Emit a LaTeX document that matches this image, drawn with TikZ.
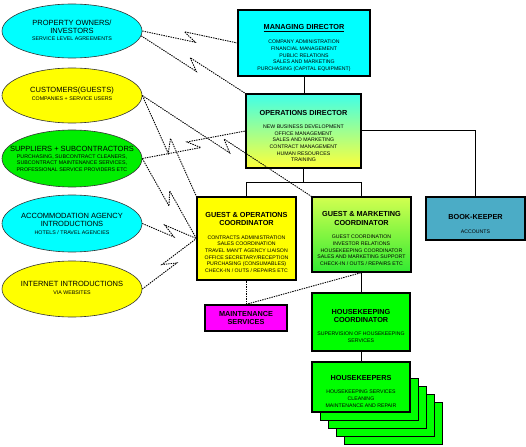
\documentclass[tikz,border=0pt]{standalone}
\usepackage{fontspec}
\setmainfont{Liberation Sans}
\usetikzlibrary{shapes.geometric,calc}
\definecolor{cyanA}{RGB}{0,255,255}
\definecolor{yelA}{RGB}{255,255,0}
\definecolor{grnA}{RGB}{0,255,0}
\definecolor{grnE}{RGB}{0,238,0}
\definecolor{magA}{RGB}{255,0,255}
\definecolor{tealA}{RGB}{75,172,198}
\definecolor{odTop}{RGB}{64,255,232}
\definecolor{odBot}{RGB}{255,255,56}
\definecolor{gmTop}{RGB}{210,255,80}
\definecolor{gmBot}{RGB}{50,235,50}
\newcommand\ttlfont{\fontsize{7.3}{8.4}\selectfont\bfseries}
\newcommand\dtlfont{\fontsize{5.2}{6.6}\selectfont}
\newcommand\elbfont{\fontsize{7.5}{8}\selectfont}
\newcommand\elsfont{\fontsize{5.3}{6.6}\selectfont}
\newcommand\boltline[2]{%
  \path ($(#1)!0.5!(#2)$) coordinate (bm);
  \path ($(bm)!6pt!(#2)$) coordinate (bf);
  \path ($(bm)!6pt!180:(#2)$) coordinate (bb);
  \path ($(bf)!4.5pt!-90:(#2)$) coordinate (q1);
  \path ($(bb)!4.5pt!90:(#2)$) coordinate (q2);
  \draw[link] (#1) -- (q1) -- (q2) -- (#2);}
\begin{document}
\begin{tikzpicture}[x=1pt,y=-1pt,
  ell/.style={ellipse,draw=black!80,line width=0.6pt,inner sep=0pt,minimum width=140pt},
  box/.style={rectangle,draw=black,line width=1.2pt,inner sep=0pt},
  backbox/.style={rectangle,draw=black,line width=0.8pt,fill=grnA,inner sep=0pt,minimum width=98pt,minimum height=42pt},
  ttl/.style={inner sep=0pt,align=center,font=\ttlfont},
  dtl/.style={inner sep=0pt,align=center,font=\dtlfont},
  elb/.style={inner sep=0pt,align=center,font=\elbfont},
  els/.style={inner sep=0pt,align=center,font=\elsfont},
  wire/.style={draw=black,line width=1pt},
  link/.style={draw=black,line width=0.9pt,dash pattern=on 1.4pt off 1pt}]
\useasboundingbox (0,0) rectangle (526,446);
\fill[white] (0,0) rectangle (526,446);
% ellipses
\node[ell,fill=cyanA,minimum height=54pt] (po) at (72,31) {};
\node[ell,fill=yelA,minimum height=55pt] (cu) at (72,95.5) {};
\node[ell,fill=grnE,minimum height=57pt] (su) at (72,158.5) {};
\node[ell,fill=cyanA,minimum height=57pt] (ac) at (72,223.5) {};
\node[ell,fill=yelA,minimum height=56pt] (in) at (72,289) {};
\node[elb] (po-t) at (72,26.7) {PROPERTY OWNERS/\\INVESTORS};
\node[els] (po-s) at (72,38.3) {SERVICE LEVEL AGREEMENTS};
\node[elb] (cu-t) at (72,90.7) {CUSTOMERS(GUESTS)};
\node[els] (cu-s) at (72,98.7) {COMPANIES + SERVICE USERS};
\node[elb] (su-t) at (72,149) {SUPPLIERS + SUBCONTRACTORS};
\node[els] (su-s) at (72,162.8) {PURCHASING, SUBCONTRACT CLEANERS,\\SUBCONTRACT MAINTENANCE SERVICES,\\PROFESSIONAL SERVICE PROVIDERS ETC};
\node[elb] (ac-t) at (72,219.8) {ACCOMMODATION AGENCY\\INTRODUCTIONS};
\node[els] (ac-s) at (72,232.3) {HOTELS / TRAVEL AGENCIES};
\node[elb] (in-t) at (72,284.3) {INTERNET INTRODUCTIONS};
\node[els] (in-s) at (72,292.3) {VIA WEBSITES};
% boxes
\node[box,fill=cyanA,minimum width=132pt,minimum height=66pt] (md) at (304,43) {};
\node[box,top color=odTop,bottom color=odBot,minimum width=115pt,minimum height=74pt] (od) at (303.5,131) {};
\node[box,fill=yelA,minimum width=99pt,minimum height=83pt] (go) at (246.5,238.5) {};
\node[box,top color=gmTop,bottom color=gmBot,minimum width=99pt,minimum height=75pt] (gm) at (361.5,234.5) {};
\node[box,fill=tealA,minimum width=99pt,minimum height=43pt] (bk) at (475.5,218.5) {};
\node[box,fill=magA,minimum width=82pt,minimum height=26pt] (mt) at (246,318) {};
\node[box,fill=grnA,minimum width=98pt,minimum height=58pt] (hkc) at (361,322) {};
\node[backbox] (hk4) at (393,423) {};
\node[backbox] (hk3) at (385,415) {};
\node[backbox] (hk2) at (377,407) {};
\node[backbox] (hk1) at (369,399) {};
\node[box,fill=grnA,minimum width=98pt,minimum height=50pt] (hk) at (361,387) {};
% box texts
\node[ttl] (md-t) at (304,28) {\underline{MANAGING DIRECTOR}};
\node[dtl] (md-d) at (304,55.8) {COMPANY ADMINISTRATION\\FINANCIAL MANAGEMENT\\PUBLIC RELATIONS\\SALES AND MARKETING\\PURCHASING (CAPITAL EQUIPMENT)};
\node[ttl] (od-t) at (303.5,112.7) {OPERATIONS DIRECTOR};
\node[dtl] (od-d) at (303.5,143.5) {NEW BUSINESS DEVELOPMENT\\OFFICE MANAGEMENT\\SALES AND MARKETING\\CONTRACT MANAGEMENT\\HUMAN RESOURCES\\TRAINING};
\node[ttl] (go-t) at (246.5,219) {GUEST \& OPERATIONS\\COORDINATOR};
\node[dtl] (go-d) at (246.5,254) {CONTRACTS ADMINISTRATION\\SALES COORDINATION\\TRAVEL MAN'T AGENCY LIAISON\\OFFICE SECRETARY/RECEPTION\\PURCHASING (CONSUMABLES)\\CHECK-IN / OUTS / REPAIRS ETC};
\node[ttl] (gm-t) at (361.5,218.3) {GUEST \& MARKETING\\COORDINATOR};
\node[dtl] (gm-d) at (361.5,250.3) {GUEST COORDINATION\\INVESTOR RELATIONS\\HOUSEKEEPING COORDINATOR\\SALES AND MARKETING SUPPORT\\CHECK-IN / OUTS / REPAIRS ETC};
\node[ttl] (bk-t) at (475.5,216.7) {BOOK-KEEPER};
\node[dtl] (bk-d) at (475.5,231.7) {ACCOUNTS};
\node[ttl] (mt-t) at (246,318) {MAINTENANCE\\SERVICES};
\node[ttl] (hkc-t) at (361,316) {HOUSEKEEPING\\COORDINATOR};
\node[dtl] (hkc-d) at (361,337.5) {SUPERVISION OF HOUSEKEEPING\\SERVICES};
\node[ttl] (hk-t) at (361,378) {HOUSEKEEPERS};
\node[dtl] (hk-d) at (361,398.7) {HOUSEKEEPING SERVICES\\CLEANING\\MAINTENANCE AND REPAIR};
% solid connectors
\coordinate (busl) at (246.5,182);
\draw[wire] (md.south) -- (md.south |- od.north);
\draw[wire] (od.south) -- (od.south |- busl);
\draw[wire] (go.north) -- (go.north |- busl) -| (gm.north);
\draw[wire] (od.east) -| (bk.north);
\draw[wire] (gm.south) -- (gm.south |- hkc.north);
\draw[wire] (hkc.south) -- (hk.north);
% dotted connectors
\draw[link] (mt.north) -- (mt.north |- go.south);
\draw[link] (mt.north) -- (gm.south);
\boltline{po.east}{md.west}
\boltline{po.-4}{od.north west}
\boltline{cu.east}{go.north west}
\boltline{cu.east}{gm.north west}
\boltline{su.east}{od.west}
\boltline{su.east}{go.west}
\boltline{ac.east}{go.west}
\boltline{in.east}{go.west}
\end{tikzpicture}
\end{document}
